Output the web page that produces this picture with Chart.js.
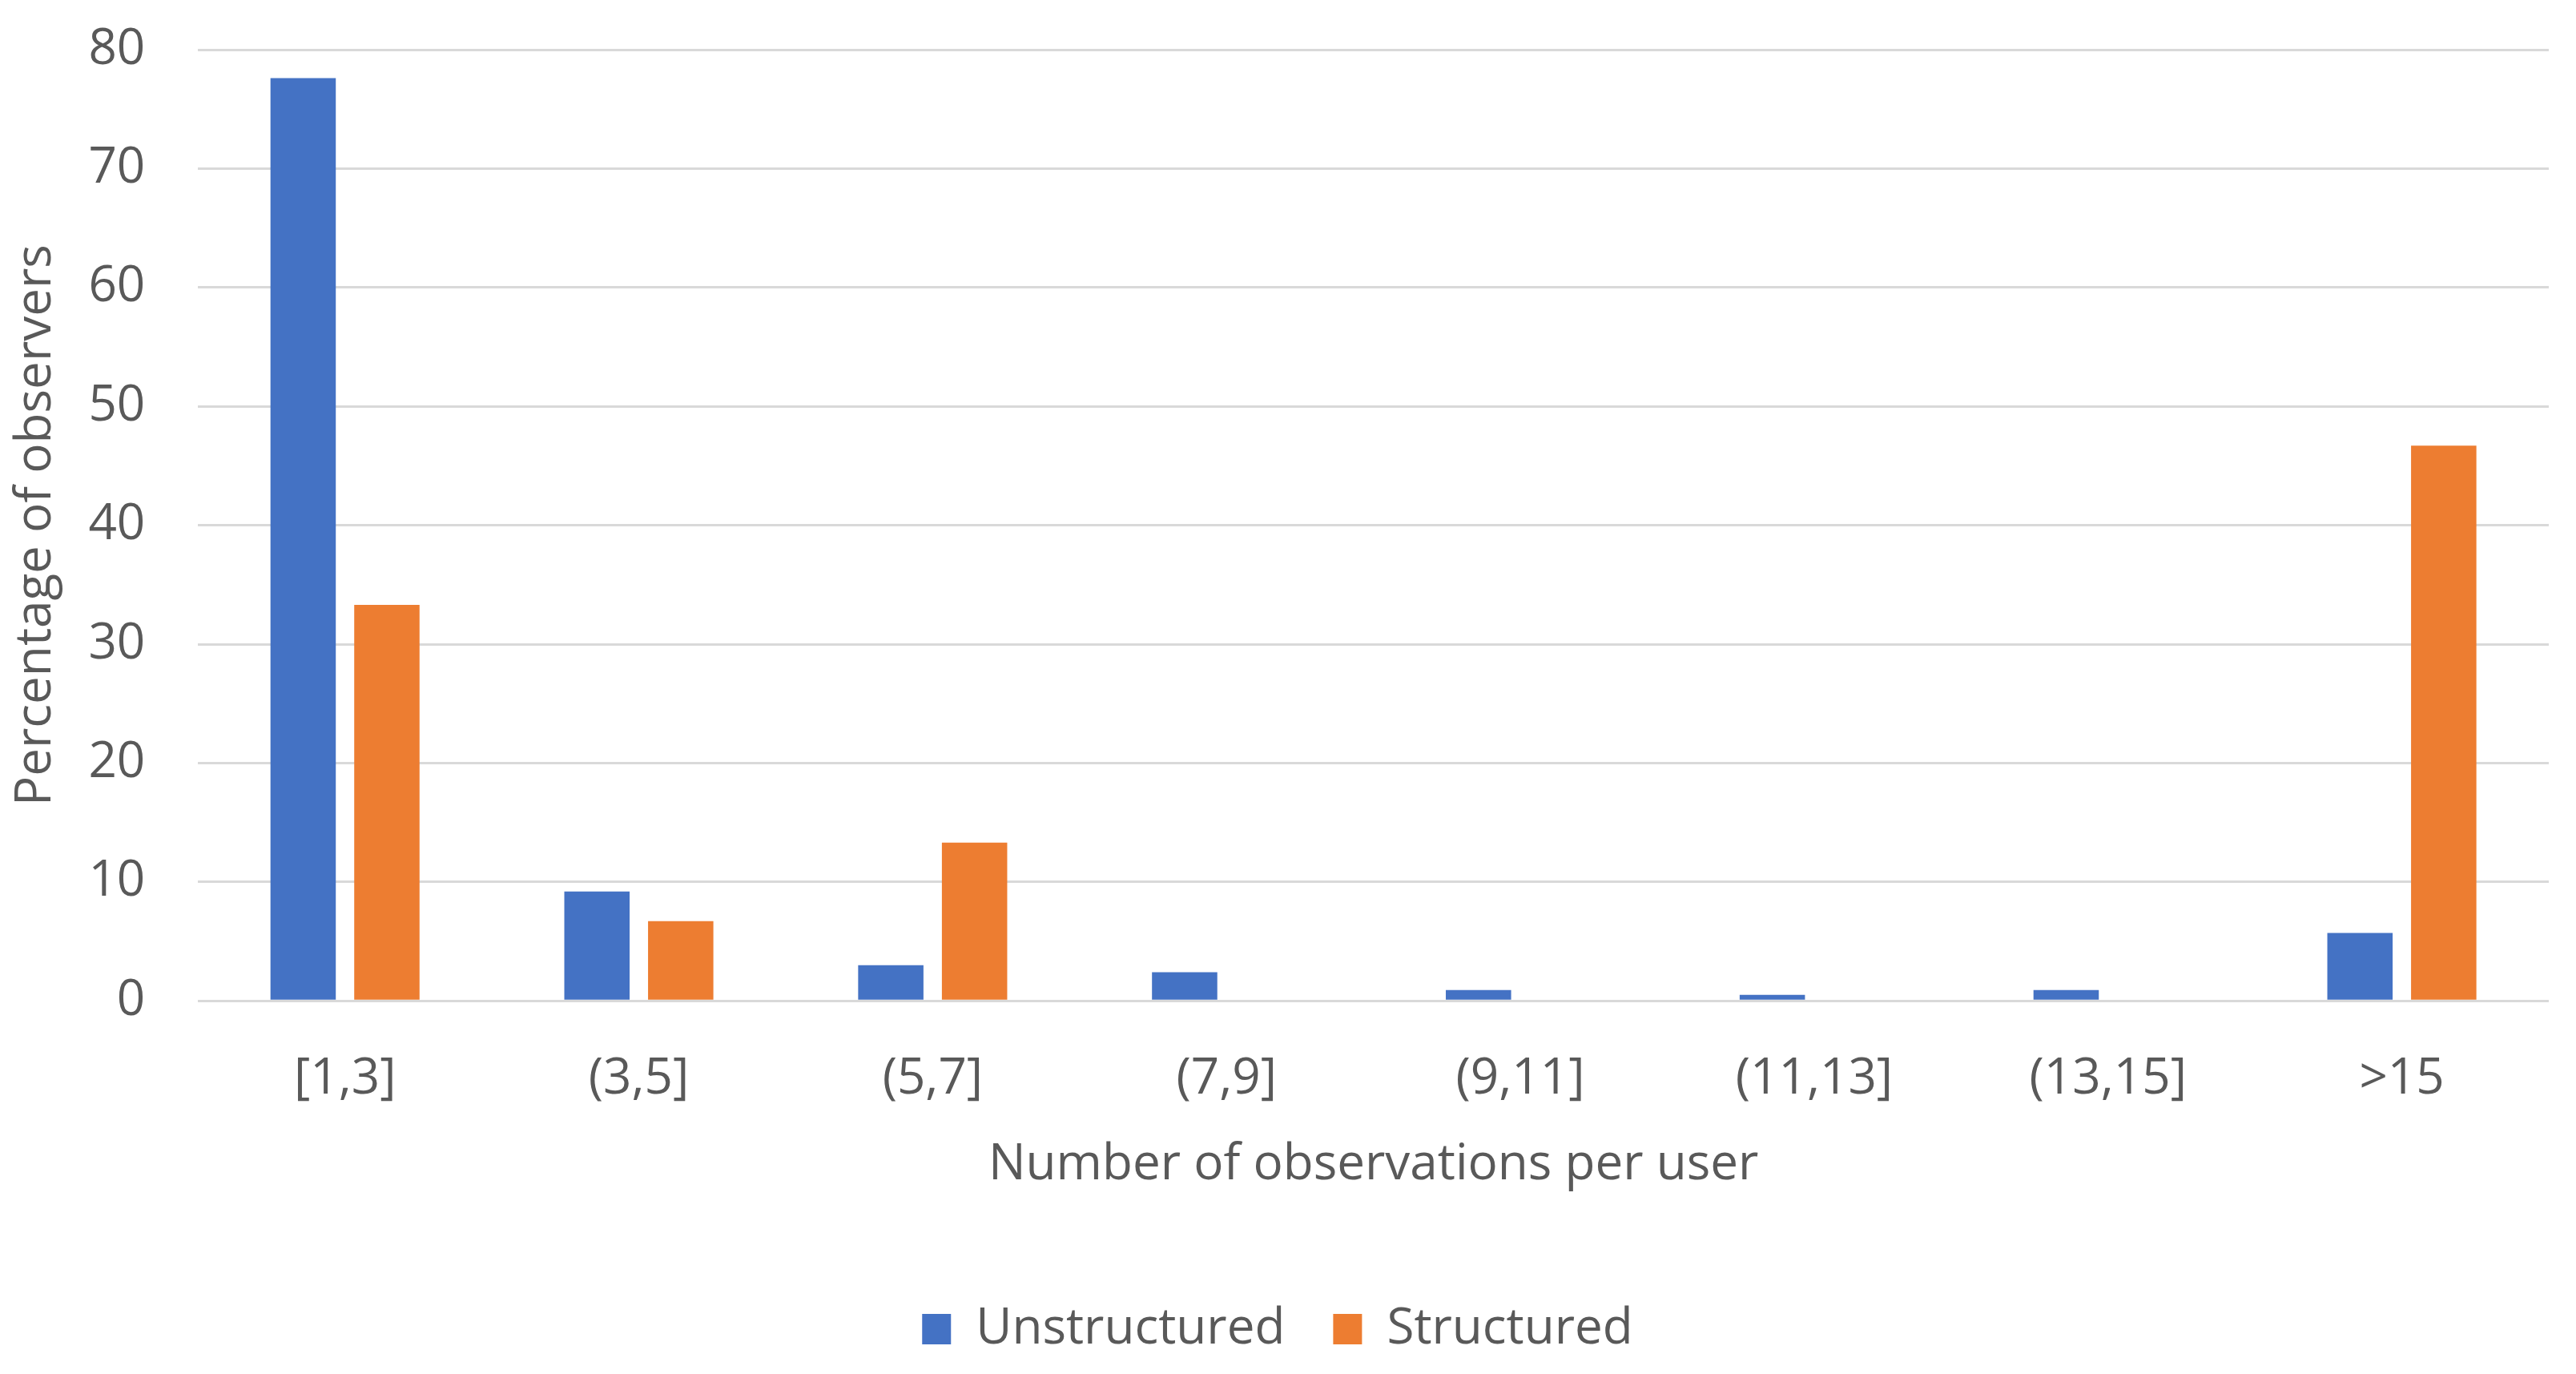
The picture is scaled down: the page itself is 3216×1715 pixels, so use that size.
<!DOCTYPE html>
<html>
<head>
    <meta charset="UTF-8">
    <title>Observations per user</title>
    <script src="https://cdn.jsdelivr.net/npm/chart.js"></script>
    <style>
        html, body { margin: 0; padding: 0; background: #fff; }
        #wrap { width: 3216px; height: 1715px; }
    </style>
</head>
<body>
    <div id="wrap"><canvas id="obsChart"></canvas></div>
    <script>
        const categories = ["[1,3]", "(3,5]", "(5,7]", "(7,9]", "(9,11]", "(11,13]", "(13,15]", ">15"];
        const unstructured = [77.6, 9.2, 3.0, 2.4, 0.9, 0.5, 0.9, 5.7];
        const structured = [33.3, 6.7, 13.3, 0, 0, 0, 0, 46.7];
        const yTicks = [0, 10, 20, 30, 40, 50, 60, 70, 80];

        const textColor = "#595959";
        const fontFamily = "'Open Sans', 'Noto Sans', sans-serif";
        const fontSize = 62;

        new Chart(document.getElementById("obsChart").getContext("2d"), {
            type: "bar",
            data: {
                labels: categories,
                datasets: [
                    { label: "Unstructured", data: unstructured, backgroundColor: "#4472C4" },
                    { label: "Structured", data: structured, backgroundColor: "#ED7D31" }
                ]
            },
            options: {
                responsive: true,
                maintainAspectRatio: false,
                animation: false,
                devicePixelRatio: 1,
                categoryPercentage: 0.57,
                barPercentage: 0.78,
                layout: { padding: { top: 62, right: 34, left: 8, bottom: 15 } },
                scales: {
                    x: {
                        grid: {
                            display: true,
                            drawOnChartArea: false,
                            drawTicks: true,
                            tickLength: 57,
                            tickColor: "rgba(0,0,0,0)"
                        },
                        border: { display: false },
                        ticks: { color: textColor, font: { family: fontFamily, size: fontSize }, padding: 4 },
                        title: {
                            display: true,
                            text: "Number of observations per user",
                            color: textColor,
                            font: { family: fontFamily, size: fontSize },
                            padding: { top: 29, bottom: 76 }
                        }
                    },
                    y: {
                        min: 0,
                        max: 80,
                        afterBuildTicks: axis => { axis.ticks = yTicks.map(v => ({ value: v })); },
                        grid: {
                            color: "#D9D9D9",
                            lineWidth: 3,
                            drawTicks: true,
                            tickLength: 62,
                            tickColor: "rgba(0,0,0,0)"
                        },
                        border: { display: false },
                        ticks: { color: textColor, font: { family: fontFamily, size: fontSize }, padding: 4 },
                        title: {
                            display: true,
                            text: "Percentage of observers",
                            color: textColor,
                            font: { family: fontFamily, size: fontSize },
                            padding: { top: 0, bottom: 24 }
                        }
                    }
                },
                plugins: {
                    legend: {
                        position: "bottom",
                        labels: {
                            color: textColor,
                            font: { family: fontFamily, size: fontSize },
                            boxWidth: 36,
                            boxHeight: 38,
                            padding: 60
                        }
                    },
                    tooltip: { enabled: false }
                }
            }
        });
    </script>
</body>
</html>
